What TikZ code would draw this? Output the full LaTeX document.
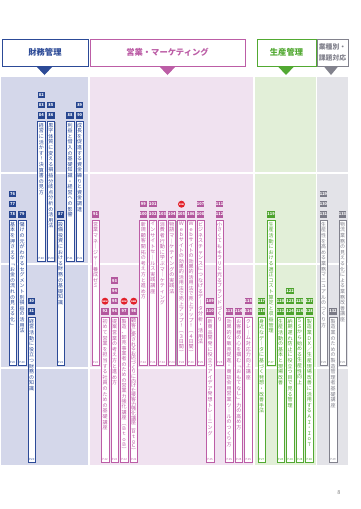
\documentclass[tikz,border=0pt]{standalone}
\usepackage{fontspec}
\setmainfont{Noto Sans CJK JP}
\definecolor{fblue}{HTML}{2C4A97}
\definecolor{fbluebg}{HTML}{D4D7EA}
\definecolor{fbluebd}{HTML}{26458F}
\definecolor{fpink}{HTML}{BC5DA6}
\definecolor{fpinkbg}{HTML}{F0E2F0}
\definecolor{fpinkbd}{HTML}{B3589E}
\definecolor{fgreen}{HTML}{52A932}
\definecolor{fgreenbg}{HTML}{E2EFD8}
\definecolor{fgreenbd}{HTML}{4CA32C}
\definecolor{fgray}{HTML}{82828D}
\definecolor{fgraybg}{HTML}{E3E3E8}
\definecolor{fgraybd}{HTML}{7A7A86}
\definecolor{fred}{HTML}{E2202A}
\definecolor{shadowc}{HTML}{A9A9B0}

\newcount\tatecount
\newdimen\tatepitch
\def\tatestop{TSTOP}
\def\tatecountloop#1{\ifx#1\tatestop\else\advance\tatecount by 1 \expandafter\tatecountloop\fi}
\def\tatemap#1{\ifx#1ー｜\else\ifx#1（︵\else\ifx#1）︶\else\ifx#1「﹁\else\ifx#1」﹂\else#1\fi\fi\fi\fi\fi}
\def\tateloop#1{\ifx#1\tatestop\else\hbox to 6pt{\hss\tatemap{#1}\hss}\expandafter\tateloop\fi}
\newcommand\tate[2]{\tatecount=0 \tatecountloop#1\tatestop
  \tatepitch=\dimexpr(#2)/\tatecount\relax
  \ifdim\tatepitch>5.6pt \tatepitch=5.6pt\fi
  \vbox{\baselineskip=\tatepitch\lineskip=0pt\lineskiplimit=-20pt\tateloop#1\tatestop}}

\tikzset{
  hdr/.style={draw, fill=white, line width=0.9pt, minimum height=27pt, inner sep=0pt, font=\fontsize{8.3}{9}\selectfont\bfseries},
  cbar/.style={fill=white, line width=0.5pt, minimum width=7.5pt, inner sep=0pt, anchor=north},
  ctext/.style={anchor=north, inner sep=0pt, font=\fontsize{5}{5}\selectfont},
  cpage/.style={anchor=south, inner sep=0pt, font=\fontsize{2.8}{2.8}\selectfont},
  badge/.style={minimum width=7.4pt, minimum height=6.4pt, inner sep=0pt, text=white, font=\fontsize{4}{4}\selectfont\bfseries},
  newc/.style={circle, fill=fred, minimum size=7pt, inner sep=0pt, text=white, font=\fontsize{2.2}{2.2}\selectfont\bfseries},
  gridline/.style={white, line width=1.2pt},
}

\newcommand\course[7]{%
  \fill[shadowc] ({#2-2.85},{#3+0.9}) rectangle ({#2+4.65},{#4+0.9});
  \node[cbar, draw=#5, minimum height={#4-#3}] (#1) at (#2,#3) {};
  \node[ctext, text=#5] (#1t) at (#2,{#3+1.8}) {\tate{#6}{\dimexpr #4pt-#3pt-11pt\relax}};
  \node[cpage, text=#5] (#1p) at (#2,{#4-1}) {#7};}
\newcommand\bdg[4]{\node[badge, fill=#4] (b#1) at (#2,#3) {#1};}
\newcommand\newmark[3]{\node[newc] (#1) at (#2,#3) {NEW};}

\begin{document}
\begin{tikzpicture}[x=1pt,y=-1pt]
\useasboundingbox (0,0) rectangle (360,509);

% column backgrounds
\fill[fbluebg] (1,77) rectangle (88,465);
\fill[fpinkbg] (90,77) rectangle (252.5,465);
\fill[fgreenbg] (255,77) rectangle (316,465);
\fill[fgraybg] (317,77) rectangle (348,465);
\foreach \yy in {173,264,368} \draw[gridline] (1,\yy) -- (348,\yy);

% headers
\node[hdr, draw=fblue, text=fblue, minimum width=86pt] (hfin) at (45,52.5) {財務管理};
\node[hdr, draw=fpink, text=fpink, minimum width=155pt] (hsal) at (167.5,52.5) {営業・マーケティング};
\node[hdr, draw=fgreen, text=fgreen, minimum width=59pt] (hpro) at (286.5,52.5) {生産管理};
\node[hdr, draw=fgray, text=fgray, minimum width=31pt, align=center, font=\fontsize{6.8}{10.5}\selectfont\bfseries] (hind) at (332.5,52.5) {業種別・\\課題対応};
\fill[fblue] (44.5,66) ++(-8.5,0) -- ++(17,0) -- ++(-8.5,9) -- cycle;
\fill[fpink] (167.5,66) ++(-8.5,0) -- ++(17,0) -- ++(-8.5,9) -- cycle;
\fill[fgreen] (286,66) ++(-8.5,0) -- ++(17,0) -- ++(-8.5,9) -- cycle;
\fill[fgray] (331,66) ++(-7.5,0) -- ++(15,0) -- ++(-7.5,9) -- cycle;

% ---------- finance (blue) ----------
\course{c84}{41.3}{121}{261}{fblue}{経営に活かす！決算書の見方}{P.20}
\course{c86}{50.9}{121}{261}{fblue}{黒字体質に変える損益分岐点分析の活用法}{P.20}
\course{c88}{70.1}{121}{261}{fblue}{利益と借入の基礎知識・経営への影響}{P.21}
\course{c90}{79.7}{121}{261}{fblue}{成長を促進する資金繰りと資金調達}{P.21}
\course{c78}{12.5}{220}{365}{fblue}{基本を押さえる「お金の流れの見える化」}{P.20}
\course{c79}{22.1}{220}{365}{fblue}{儲けの元がわかるセグメント別損益の活用法}{P.20}
\course{c87}{60.5}{220}{365}{fblue}{設備投資における財務の基礎知識}{P.21}
\course{c81}{31.7}{317}{462}{fblue}{経営活動に役立つ財務の知識}{P.20}
\bdg{82}{41.3}{94.9}{fbluebd}\bdg{83}{41.3}{105.2}{fbluebd}\bdg{84}{41.3}{115.5}{fbluebd}
\bdg{85}{50.9}{105.2}{fbluebd}\bdg{86}{50.9}{115.5}{fbluebd}
\bdg{88}{70.1}{115.5}{fbluebd}
\bdg{89}{79.7}{105.2}{fbluebd}\bdg{90}{79.7}{115.5}{fbluebd}
\bdg{76}{12.5}{193.9}{fbluebd}\bdg{77}{12.5}{204.2}{fbluebd}\bdg{78}{12.5}{214.5}{fbluebd}
\bdg{79}{22.1}{214.5}{fbluebd}
\bdg{87}{60.5}{214.5}{fbluebd}
\bdg{80}{31.7}{301.2}{fbluebd}\bdg{81}{31.7}{311.5}{fbluebd}

% ---------- sales & marketing (pink) ----------
\course{c91}{95.5}{220}{365}{fpink}{営業マネージャー養成ゼミ}{P.22}
\course{c100}{143.25}{220}{365}{fpink}{新規顧客開拓の考え方と進め方}{P.24}
\course{c102}{152.8}{220}{365}{fpink}{インサイトセールス実践講座}{P.24}
\course{c103}{162.35}{220}{365}{fpink}{消費者行動に学ぶマーケティング}{P.24}
\course{c104}{171.9}{220}{365}{fpink}{物語マーケティングの実践法}{P.24}
\course{c105}{181.45}{220}{365}{fpink}{Ｗｅｂサイトの効果的活用法で売上アップ！（３日間）}{P.24}
\course{c106}{191}{220}{365}{fpink}{Ｗｅｂサイトの効果的活用法で売上アップ！（４日間）}{P.24}
\course{c108}{200.55}{220}{365}{fpink}{ビジネスチャンスにつなげるデータ分析・活用法}{P.25}
\course{c112}{219.65}{220}{365}{fpink}{小さくてもキラリと光るブランドづくり}{P.25}
\course{c92}{105.05}{317}{462}{fpink}{初めて営業を担当する社員のための基礎講座}{P.22}
\course{c96}{114.6}{317}{462}{fpink}{提案営業の考え方と進め方}{P.22}
\course{c97}{124.15}{317}{462}{fpink}{製造、卸売事業者のための営業力強化講座（ＢｔｏＢ）}{P.22}
\course{c98}{133.7}{317}{462}{fpink}{顧客に愛されるお店づくりに向けた接客力強化講座（ＢｔｏＣ）}{P.22}
\course{c110}{210.1}{317}{462}{fpink}{新商品開発に役立つアイデア発想トレーニング}{P.25}
\course{c113}{229.2}{317}{462}{fpink}{効果的な販売促進・商談会用営業ツールのつくり方}{P.25}
\course{c114}{238.75}{317}{462}{fpink}{お客様の心を掴む「おもてなし」力の高め方}{P.25}
\course{c116}{248.3}{317}{462}{fpink}{クレーム対応力向上講座}{P.25}
\bdg{91}{95.5}{214.5}{fpinkbd}
\bdg{99}{143.25}{204.2}{fpinkbd}\bdg{100}{143.25}{214.5}{fpinkbd}
\bdg{101}{152.8}{204.2}{fpinkbd}\bdg{102}{152.8}{214.5}{fpinkbd}
\bdg{103}{162.35}{214.5}{fpinkbd}
\bdg{104}{171.9}{214.5}{fpinkbd}
\newmark{n105}{181.45}{204.2}\bdg{105}{181.45}{214.5}{fpinkbd}
\bdg{106}{191}{214.5}{fpinkbd}
\bdg{107}{200.55}{204.2}{fpinkbd}\bdg{108}{200.55}{214.5}{fpinkbd}
\bdg{111}{219.65}{204.2}{fpinkbd}\bdg{112}{219.65}{214.5}{fpinkbd}
\newmark{n92}{105.05}{301.2}\bdg{92}{105.05}{311.5}{fpinkbd}
\bdg{93}{114.6}{280.6}{fpinkbd}\bdg{94}{114.6}{290.9}{fpinkbd}\bdg{95}{114.6}{301.2}{fpinkbd}\bdg{96}{114.6}{311.5}{fpinkbd}
\newmark{n97}{124.15}{301.2}\bdg{97}{124.15}{311.5}{fpinkbd}
\newmark{n98}{133.7}{301.2}\bdg{98}{133.7}{311.5}{fpinkbd}
\bdg{109}{210.1}{301.2}{fpinkbd}\bdg{110}{210.1}{311.5}{fpinkbd}
\bdg{113}{229.2}{311.5}{fpinkbd}
\bdg{114}{238.75}{311.5}{fpinkbd}
\bdg{115}{248.3}{301.2}{fpinkbd}\bdg{116}{248.3}{311.5}{fpinkbd}

% ---------- production (green) ----------
\course{c119}{271.05}{220}{365}{fgreen}{生産活動における適正コスト算定と収益管理}{P.27}
\course{c118}{261.5}{317}{462}{fgreen}{身近なデータに基づく発想・改善手法}{P.27}
\course{c121}{280.6}{317}{462}{fgreen}{生産活動の基本と現場改善}{P.28}
\course{c124}{290.15}{317}{462}{fgreen}{納期遅れ防止に役立つ目で見る管理}{P.28}
\course{c126}{299.7}{317}{462}{fgreen}{５Ｓから始める生産性向上}{P.28}
\course{c128}{309.25}{317}{462}{fgreen}{製造業ＤＸ／生産現場改善に活用するＡＩ・ＩｏＴ}{P.28}
\bdg{119}{271.05}{214.5}{fgreenbd}
\bdg{117}{261.5}{301.2}{fgreenbd}\bdg{118}{261.5}{311.5}{fgreenbd}
\bdg{120}{280.6}{301.2}{fgreenbd}\bdg{121}{280.6}{311.5}{fgreenbd}
\bdg{122}{290.15}{290.9}{fgreenbd}\bdg{123}{290.15}{301.2}{fgreenbd}\bdg{124}{290.15}{311.5}{fgreenbd}
\bdg{125}{299.7}{301.2}{fgreenbd}\bdg{126}{299.7}{311.5}{fgreenbd}
\bdg{127}{309.25}{301.2}{fgreenbd}\bdg{128}{309.25}{311.5}{fgreenbd}

% ---------- industry / issues (gray) ----------
\course{c131}{323.5}{220}{365}{fgray}{生産性を高める業務マニュアルのつくり方}{P.29}
\course{c133}{342.5}{220}{365}{fgray}{物流業務の見える化による業務改善講座}{P.29}
\course{c132}{333}{317}{462}{fgray}{製造業のための製造管理者基礎講座}{P.29}
\bdg{129}{323.5}{193.9}{fgraybd}\bdg{130}{323.5}{204.2}{fgraybd}\bdg{131}{323.5}{214.5}{fgraybd}
\bdg{133}{342.5}{214.5}{fgraybd}
\bdg{132}{333}{311.5}{fgraybd}

\node[font=\fontsize{5.5}{5.5}\selectfont, text=gray] (pagenum) at (339,493) {8};
\end{tikzpicture}
\end{document}
